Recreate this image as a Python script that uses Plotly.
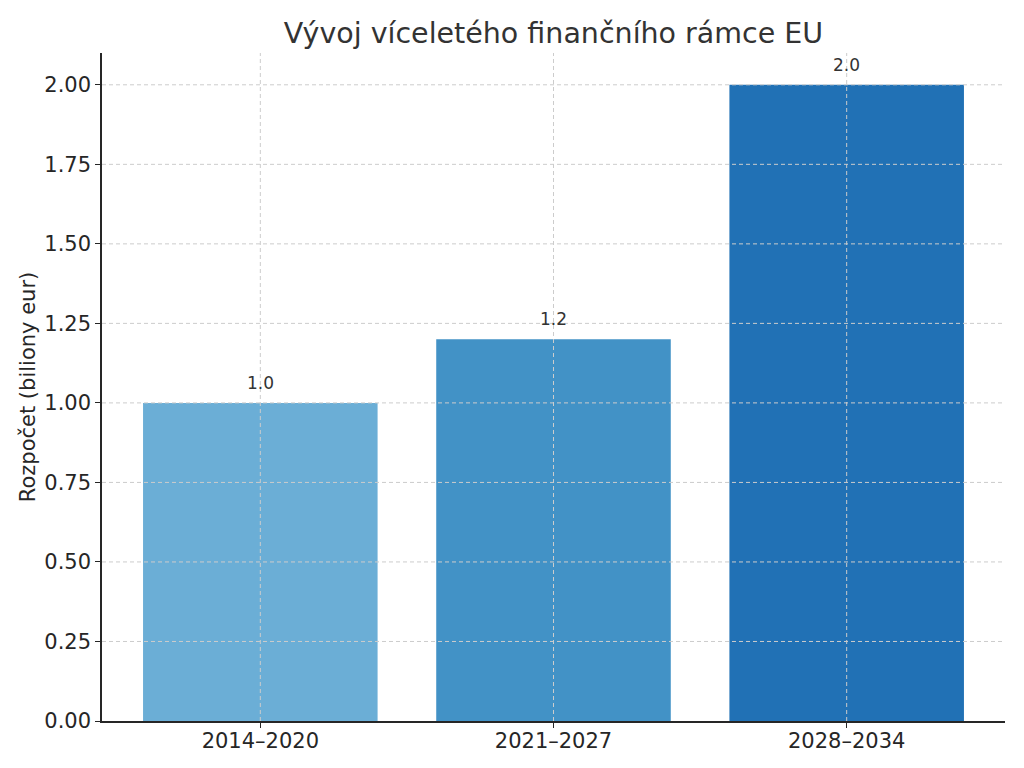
import plotly.graph_objects as go

categories = ["2014–2020", "2021–2027", "2028–2034"]
values = [1.0, 1.2, 2.0]
bar_colors = ["#6baed6", "#4292c6", "#2171b5"]
y_ticks = [0.0, 0.25, 0.5, 0.75, 1.0, 1.25, 1.5, 1.75, 2.0]
value_labels = ["1.0", "1.2", "2.0"]

title_text = "Vývoj víceletého finančního rámce EU"
y_title = "Rozpočet (biliony eur)"

font_family = "DejaVu Sans, sans-serif"

fig = go.Figure()
fig.add_trace(go.Bar(
    x=categories, y=values, width=0.8,
    marker=dict(color=bar_colors, line=dict(width=0)),
    hoverinfo="x+y",
))

grid_style = dict(color="#cccccc", width=1, dash="4px,3px")
shapes = []
for t in y_ticks[1:]:
    shapes.append(dict(type="line", xref="paper", yref="y", x0=0, x1=1, y0=t, y1=t,
                       line=grid_style, layer="above"))
for c in categories:
    shapes.append(dict(type="line", xref="x", yref="paper", x0=c, x1=c, y0=0, y1=1,
                       line=grid_style, layer="above"))

annotations = []
for c, v, lab in zip(categories, values, value_labels):
    annotations.append(dict(x=c, y=v, text=lab, showarrow=False, yanchor="bottom",
                            yshift=8, font=dict(family=font_family, size=17, color="#333333")))

fig.update_layout(
    width=1024, height=768,
    paper_bgcolor="white", plot_bgcolor="white",
    margin=dict(l=94, r=27, t=45, b=55),
    title=dict(text=title_text, x=0.5, xanchor="center", xref="paper",
               y=1 - 25 / 768, yanchor="middle",
               font=dict(family=font_family, size=28.5, color="#333333")),
    font=dict(family=font_family, color="#262626"),
    shapes=shapes,
    annotations=annotations,
    showlegend=False,
    bargap=0.2,
)
fig.update_xaxes(
    type="category", range=[-0.54, 2.54],
    showgrid=False, showline=True, linecolor="#262626", linewidth=1.5,
    ticks="outside", ticklen=5, tickwidth=1.2, tickcolor="#262626",
    ticklabelstandoff=-5,
    tickfont=dict(family=font_family, size=21, color="#262626"),
    zeroline=False,
)
fig.update_yaxes(
    range=[0, 2.1], tickvals=y_ticks, tickformat=".2f",
    showgrid=False, showline=True, linecolor="#262626", linewidth=1.5,
    ticks="outside", ticklen=5, tickwidth=1.2, tickcolor="#262626",
    tickfont=dict(family=font_family, size=21, color="#262626"),
    title=dict(text=y_title, font=dict(family=font_family, size=21, color="#262626"), standoff=3),
    zeroline=False,
)

fig.write_html("out.html")
